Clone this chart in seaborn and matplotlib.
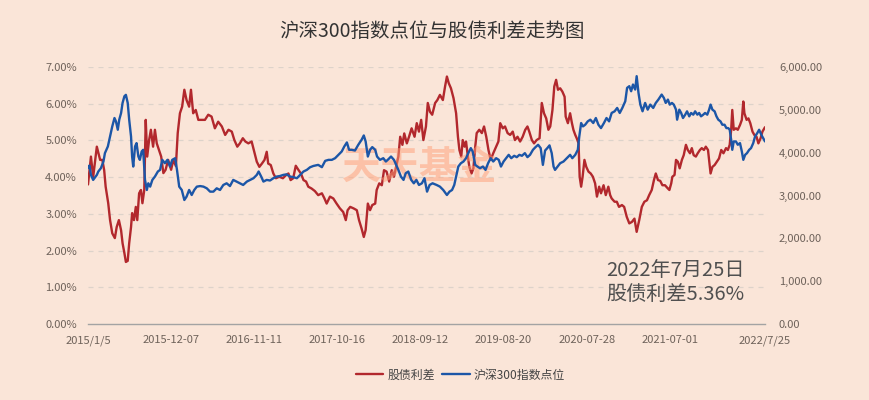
import numpy as np
import pandas as pd
import matplotlib
matplotlib.use("Agg")
import matplotlib.pyplot as plt
import seaborn as sns
from matplotlib.ticker import FuncFormatter, MultipleLocator

# trading-day index (0 = 2015/1/5, 1841 = 2022/7/25)
spread_day = [0, 8, 14, 24, 33, 39, 44, 48, 55, 60, 66, 73, 78, 84, 90, 94, 99, 103, 108, 112,
              117, 120, 125, 130, 134, 139, 144, 148, 153, 157, 161, 166, 171, 177, 182, 187, 193,
              199, 205, 211, 218, 226, 232, 239, 244, 250, 256, 262, 268, 275, 280, 286, 293, 300,
              318, 327, 336, 345, 354, 364, 373, 382, 391, 398, 406, 413, 421, 428, 436, 445, 452,
              459, 466, 473, 480, 486, 490, 497, 504, 511, 520, 530, 539, 545, 551, 558, 565, 572,
              579, 586, 593, 599, 608, 617, 626, 636, 643, 649, 658, 667, 676, 685, 694, 701, 706,
              713, 722, 731, 737, 744, 750, 755, 761, 767, 773, 781, 785, 792, 799, 805, 812, 819,
              826, 832, 838, 844, 849, 855, 860, 867, 873, 880, 888, 894, 900, 906, 912, 919, 924,
              930, 936, 944, 950, 957, 965, 971, 976, 981, 987, 994, 1001, 1006, 1010, 1015, 1019,
              1024, 1028, 1033, 1037, 1043, 1048, 1053, 1057, 1064, 1071, 1077, 1083, 1089, 1095,
              1102, 1110, 1116, 1121, 1128, 1134, 1141, 1148, 1155, 1161, 1168, 1175, 1182, 1189,
              1195, 1200, 1207, 1213, 1220, 1228, 1234, 1240, 1246, 1252, 1257, 1263, 1268, 1273,
              1278, 1284, 1290, 1296, 1299, 1305, 1311, 1316, 1320, 1325, 1329, 1334, 1337, 1341,
              1345, 1350, 1355, 1361, 1367, 1373, 1379, 1384, 1390, 1395, 1402, 1408, 1415, 1420,
              1424, 1432, 1438, 1444, 1452, 1458, 1465, 1472, 1479, 1486, 1492, 1499, 1506, 1513,
              1520, 1526, 1533, 1539, 1544, 1550, 1556, 1562, 1569, 1577, 1581, 1586, 1589, 1595,
              1599, 1604, 1609, 1615, 1620, 1626, 1631, 1637, 1642, 1647, 1653, 1658, 1664, 1669,
              1675, 1680, 1686, 1689, 1693, 1698, 1704, 1710, 1716, 1722, 1728, 1735, 1740, 1745,
              1749, 1752, 1756, 1762, 1767, 1773, 1778, 1782, 1785, 1791, 1796, 1801, 1807, 1812,
              1818, 1823, 1829, 1834, 1841]
spread_pct = [3.80, 4.56, 4.00, 4.83, 4.47, 4.47, 4.19, 3.74, 3.29, 2.83, 2.47, 2.34, 2.64, 2.83,
              2.55, 2.20, 1.93, 1.69, 1.72, 2.20, 2.64, 3.02, 2.83, 3.19, 2.83, 3.56, 3.65, 3.29,
              3.65, 5.56, 4.56, 5.00, 5.29, 4.83, 5.29, 4.92, 4.74, 4.56, 4.11, 4.20, 4.47, 4.20,
              4.47, 4.30, 5.20, 5.74, 5.92, 6.38, 6.10, 5.92, 6.38, 5.74, 5.83, 5.56, 5.56, 5.70,
              5.65, 5.33, 5.51, 5.38, 5.15, 5.29, 5.24, 5.01, 4.83, 4.92, 5.06, 4.97, 4.92, 4.97,
              4.69, 4.42, 4.28, 4.37, 4.47, 4.69, 4.37, 4.33, 4.10, 3.97, 4.01, 3.97, 4.06, 4.10,
              3.92, 3.97, 4.31, 4.20, 4.10, 3.92, 3.88, 3.74, 3.69, 3.62, 3.51, 3.56, 3.42, 3.28,
              3.47, 3.42, 3.28, 3.15, 3.05, 2.83, 3.10, 3.19, 3.15, 3.10, 2.83, 2.60, 2.37, 2.56,
              3.28, 3.10, 3.24, 3.28, 3.65, 3.83, 3.78, 4.19, 4.15, 3.88, 4.19, 4.01, 4.28, 4.56,
              5.10, 4.88, 5.19, 4.92, 5.10, 5.33, 5.10, 5.47, 5.24, 5.56, 5.01, 5.38, 6.02, 5.78,
              5.70, 6.02, 6.10, 6.24, 6.10, 6.47, 6.74, 6.56, 6.42, 6.15, 5.74, 5.10, 4.74, 4.56,
              5.01, 4.83, 4.97, 4.56, 4.28, 4.10, 4.24, 4.83, 5.20, 5.29, 5.20, 5.38, 5.10, 4.74,
              4.47, 4.65, 4.83, 4.97, 5.47, 5.33, 5.38, 5.20, 5.15, 5.24, 5.01, 5.10, 4.97, 5.10,
              5.29, 5.38, 5.24, 5.01, 4.92, 5.01, 5.06, 6.02, 5.74, 5.60, 5.29, 5.38, 5.83, 6.47,
              6.65, 6.38, 6.42, 6.33, 6.19, 5.65, 5.47, 5.74, 5.47, 5.29, 5.15, 5.06, 4.92, 4.01,
              3.74, 4.01, 4.47, 4.28, 4.15, 4.10, 4.01, 3.83, 3.47, 3.74, 3.56, 3.78, 3.51, 3.74,
              3.51, 3.42, 3.33, 3.33, 3.19, 3.24, 3.19, 2.92, 2.74, 2.78, 2.87, 2.51, 2.83, 3.19,
              3.33, 3.37, 3.51, 3.65, 3.92, 4.10, 3.92, 3.90, 3.78, 3.78, 3.69, 3.65, 3.83, 4.01,
              4.06, 4.47, 4.42, 4.24, 4.47, 4.60, 4.88, 4.74, 4.65, 4.79, 4.60, 4.56, 4.65, 4.74,
              4.79, 4.74, 4.83, 4.74, 4.47, 4.10, 4.28, 4.33, 4.42, 4.51, 4.74, 4.65, 4.79, 4.74,
              4.88, 5.29, 5.83, 5.29, 5.33, 5.29, 5.42, 5.56, 6.06, 5.74, 5.56, 5.60, 5.47, 5.24,
              5.15, 5.10, 4.92, 5.06, 5.24, 5.36]

index_day = [0, 4, 8, 14, 24, 28, 35, 42, 46, 54, 60, 66, 72, 76, 81, 85, 90, 94, 99, 103, 108,
             112, 117, 120, 123, 128, 132, 137, 141, 146, 150, 155, 160, 164, 169, 175, 182, 190,
             196, 202, 209, 216, 223, 229, 237, 242, 248, 255, 262, 268, 275, 282, 289, 296, 305,
             314, 323, 332, 341, 350, 359, 368, 377, 386, 395, 404, 413, 422, 432, 441, 450, 459,
             464, 471, 477, 486, 495, 504, 513, 522, 531, 540, 549, 558, 568, 577, 586, 595, 604,
             613, 626, 636, 645, 654, 663, 672, 681, 690, 697, 704, 710, 717, 726, 735, 744, 750,
             755, 761, 767, 773, 781, 786, 794, 803, 810, 817, 824, 832, 838, 844, 851, 858, 864,
             871, 879, 886, 893, 900, 908, 915, 922, 929, 937, 948, 957, 966, 976, 983, 990, 996,
             1001, 1007, 1014, 1021, 1028, 1034, 1041, 1046, 1053, 1059, 1066, 1074, 1081, 1088,
             1095, 1102, 1110, 1117, 1123, 1130, 1137, 1144, 1151, 1159, 1166, 1173, 1180, 1188,
             1195, 1202, 1210, 1217, 1224, 1231, 1237, 1243, 1249, 1255, 1261, 1266, 1270, 1277,
             1284, 1293, 1302, 1311, 1317, 1325, 1332, 1336, 1341, 1346, 1352, 1359, 1366, 1374,
             1381, 1388, 1395, 1403, 1410, 1417, 1424, 1432, 1439, 1446, 1453, 1461, 1466, 1472,
             1477, 1482, 1488, 1492, 1497, 1502, 1508, 1515, 1522, 1529, 1537, 1544, 1551, 1560,
             1566, 1571, 1577, 1582, 1588, 1593, 1599, 1602, 1608, 1613, 1618, 1624, 1629, 1635,
             1640, 1646, 1651, 1657, 1662, 1667, 1673, 1678, 1684, 1689, 1693, 1698, 1704, 1709,
             1714, 1720, 1725, 1731, 1736, 1741, 1745, 1749, 1752, 1756, 1762, 1767, 1773, 1778,
             1782, 1787, 1792, 1798, 1803, 1809, 1814, 1820, 1825, 1831, 1836, 1841]
index_pts = [3640, 3700, 3480, 3364, 3480, 3560, 3637, 3793, 3989, 4145, 4379, 4613, 4809, 4730,
             4535, 4770, 4927, 5161, 5317, 5350, 5161, 4770, 4379, 3910, 3676, 4145, 4223, 3910,
             3832, 4028, 4067, 3364, 3129, 3285, 3207, 3364, 3442, 3560, 3598, 3832, 3754, 3832,
             3676, 3832, 3871, 3598, 3207, 3129, 2895, 2973, 3129, 3012, 3129, 3207, 3220, 3207,
             3168, 3090, 3090, 3168, 3129, 3246, 3285, 3220, 3364, 3325, 3285, 3246, 3325, 3364,
             3403, 3481, 3560, 3442, 3325, 3364, 3350, 3403, 3442, 3455, 3481, 3494, 3442, 3430,
             3403, 3481, 3560, 3598, 3660, 3690, 3715, 3661, 3809, 3832, 3832, 3871, 3949, 4028,
             4145, 4239, 4067, 4067, 4050, 4184, 4301, 4402, 4262, 3910, 4067, 4130, 4067, 3910,
             3832, 3871, 3793, 3848, 3910, 3832, 3715, 3598, 3441, 3364, 3520, 3559, 3364, 3285,
             3364, 3246, 3285, 3403, 3090, 3246, 3285, 3246, 3207, 3129, 3012, 3090, 3129, 3246,
             3441, 3676, 3754, 3793, 3871, 3989, 4106, 4028, 3715, 3676, 3637, 3676, 3598, 3754,
             3871, 3793, 3871, 3832, 3676, 3793, 3871, 3949, 3871, 3927, 3895, 3949, 3927, 3989,
             3895, 3949, 4067, 4130, 4184, 4106, 3715, 4050, 4106, 4170, 3989, 3676, 3598, 3676,
             3754, 3793, 3871, 3949, 3871, 3949, 4067, 4379, 4692, 4613, 4652, 4731, 4770, 4692,
             4809, 4652, 4574, 4692, 4809, 4731, 4927, 4965, 5044, 4927, 5044, 5200, 5513, 5552,
             5434, 5591, 5473, 5786, 5395, 5122, 4966, 5161, 5004, 5122, 5044, 5161, 5239, 5356,
             5278, 5161, 5239, 5122, 5161, 5122, 5004, 4770, 5004, 4927, 4809, 4887, 4965, 4848,
             4927, 4887, 4965, 4887, 4927, 4848, 4887, 4927, 4887, 5004, 5122, 5004, 4965, 4848,
             4770, 4731, 4652, 4652, 4574, 4574, 4535, 4301, 4067, 4262, 4262, 4184, 4223, 4028,
             3832, 3949, 3989, 4067, 4106, 4223, 4379, 4457, 4535, 4418, 4340, 4262]

tick_labels = ["2015/1/5", "2015-12-07", "2016-11-11", "2017-10-16", "2018-09-12",
               "2019-08-20", "2020-07-28", "2021-07-01", "2022/7/25"]
label_step = 226
last_day = 1841

title = "沪深300指数点位与股债利差走势图"
note_lines = ["2022年7月25日", "股债利差5.36%"]

BG = "#FAE5D8"
RED = "#B2282D"
BLUE = "#1C56A7"
TICK_C = "#6E625A"

sns.set_style("white")
plt.rcParams["font.family"] = ["Noto Sans CJK SC", "DejaVu Sans"]
plt.rcParams["axes.unicode_minus"] = False

spread_df = pd.DataFrame({"day": spread_day, "val": spread_pct})
index_df = pd.DataFrame({"day": index_day, "val": index_pts})

fig = plt.figure(figsize=(8.69, 4.0), dpi=100, facecolor=BG)
ax = fig.add_axes([88 / 869, 1 - 324 / 400, 677 / 869, 257 / 400])
ax.set_facecolor(BG)
ax2 = ax.twinx()

sns.lineplot(data=spread_df, x="day", y="val", ax=ax, color=RED, lw=1.7,
             label="股债利差", legend=False)
sns.lineplot(data=index_df, x="day", y="val", ax=ax2, color=BLUE, lw=1.7,
             label="沪深300指数点位", legend=False)

ax.set_xlim(0, last_day)
ax.set_ylim(0, 7)
ax2.set_ylim(0, 6000)
ax.yaxis.set_major_locator(MultipleLocator(1))
ax2.yaxis.set_major_locator(MultipleLocator(1000))
ax.yaxis.set_major_formatter(FuncFormatter(lambda v, p: f"{v:.2f}%"))
ax2.yaxis.set_major_formatter(FuncFormatter(lambda v, p: f"{v:,.2f}"))

ticks = list(np.arange(0, 8) * label_step) + [last_day]
ax.set_xticks(ticks)
ax.set_xticklabels(tick_labels)

for a in (ax, ax2):
    a.set_xlabel("")
    a.set_ylabel("")
    for s in ("left", "right", "top"):
        a.spines[s].set_visible(False)
    a.spines["bottom"].set_visible(False)
    a.tick_params(length=0, labelsize=8, colors=TICK_C)
ax.spines["bottom"].set_visible(True)
ax.spines["bottom"].set_color("#A3A3A3")
ax.spines["bottom"].set_linewidth(1.0)
ax.tick_params(axis="x", pad=8)
ax.tick_params(axis="y", pad=8)
ax2.tick_params(axis="y", pad=10)

ax.grid(False)
ax2.grid(False)
for v in range(1, 8):
    ax.axhline(v, color="#DDD3CA", lw=0.9, ls=(0, (4, 4)), zorder=0)

# watermark
ax.text(0.49, 0.61, "天天基金", transform=ax.transAxes, ha="center", va="center",
        fontsize=28, fontweight="bold", color="#FF9F78", alpha=0.5, zorder=10)

ax.text(0.766, 0.207, note_lines[0], transform=ax.transAxes, ha="left", va="center",
        fontsize=14.5, color="#505050", zorder=11)
ax.text(0.766, 0.113, note_lines[1], transform=ax.transAxes, ha="left", va="center",
        fontsize=14.5, color="#505050", zorder=11)

fig.text(0.497, 1 - 31 / 400, title, ha="center", va="center", fontsize=14, color="#333333")

h1, l1 = ax.get_legend_handles_labels()
h2, l2 = ax2.get_legend_handles_labels()
fig.legend(h1 + h2, l1 + l2, loc="center", bbox_to_anchor=(0.53, 1 - 375 / 400), ncol=2,
           frameon=False, fontsize=8.6, handlelength=2.3, handletextpad=0.35,
           columnspacing=0.6, labelcolor="#444444")

fig.savefig("out.png", dpi=100, facecolor=BG)
